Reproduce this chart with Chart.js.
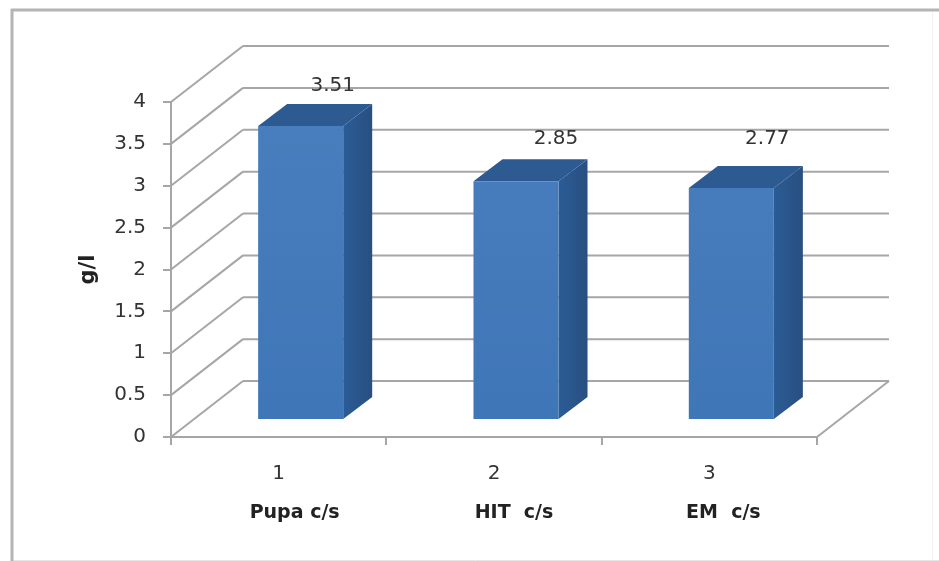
<!DOCTYPE html>
<html>
<head>
<meta charset="utf-8">
<title>g/l by sample</title>
<script src="https://cdn.jsdelivr.net/npm/chart.js@4/dist/chart.umd.min.js"></script>
<style>
    html, body { margin: 0; padding: 0; background: #fff; }
    canvas { display: block; }
</style>
</head>
<body>
<canvas id="chart" width="939" height="561"></canvas>
<script>
const categories = ['1', '2', '3'];
const sampleNames = ['Pupa c/s', 'HIT  c/s', 'EM  c/s'];
const concentration = [3.51, 2.85, 2.77];
const valueTicks = [0, 0.5, 1, 1.5, 2, 2.5, 3, 3.5, 4];

const GRID = '#a6a6a6';
const TEXT = '#333';
const BODY_FONT = '"DejaVu Sans", sans-serif';

// floor/wall projection and bar placement, in pixels
const WALL = { dx: 72, dy: -56 };
const BAR_SHIFT = { dx: 22, dy: -17 };
const BAR_DEPTH = { dx: 29, dy: -22 };
const NAME_NUDGE = [16, 20, 14];
const VALUE_NUDGE = [[32, -40], [40, -43], [36, -49]];

function quad(ctx, pts, fill) {
    ctx.beginPath();
    pts.forEach((p, i) => i ? ctx.lineTo(p[0], p[1]) : ctx.moveTo(p[0], p[1]));
    ctx.closePath();
    ctx.fillStyle = fill;
    ctx.fill();
}

function line(ctx, x1, y1, x2, y2) {
    ctx.beginPath();
    ctx.moveTo(x1, y1);
    ctx.lineTo(x2, y2);
    ctx.stroke();
}

const box3d = {
    id: 'box3d',
    beforeDraw(chart) {
        // outer frame: heavy left and top, bottom and right barely there
        const ctx = chart.ctx;
        ctx.save();
        ctx.strokeStyle = '#e6e6e6';
        ctx.lineWidth = 1;
        line(ctx, 12, 560.5, 939, 560.5);
        ctx.strokeStyle = '#f3f3f3';
        line(ctx, 932.5, 11, 932.5, 560);
        ctx.strokeStyle = '#b4b4b4';
        ctx.lineWidth = 3;
        line(ctx, 12, 9, 12, 561);
        line(ctx, 11, 10, 939, 10);
        ctx.restore();
    },
    beforeDatasetsDraw(chart) {
        // side wall, back wall and floor edge
        const { ctx, chartArea: area, scales: { y } } = chart;
        ctx.save();
        ctx.strokeStyle = GRID;
        ctx.lineWidth = 2;
        valueTicks.forEach(v => {
            const py = y.getPixelForValue(v);
            line(ctx, area.left, py, area.left + WALL.dx, py + WALL.dy);
            line(ctx, area.left + WALL.dx, py + WALL.dy, area.right + WALL.dx, py + WALL.dy);
        });
        const y0 = y.getPixelForValue(0);
        line(ctx, area.right, y0, area.right + WALL.dx, y0 + WALL.dy);
        ctx.restore();
    },
    beforeDatasetDraw(chart, args) {
        // the library paints the front face in this shifted frame
        const ctx = chart.ctx;
        ctx.save();
        ctx.translate(BAR_SHIFT.dx, BAR_SHIFT.dy);
        args.meta.data.forEach(bar => {
            const right = bar.x + bar.width / 2;
            const left = bar.x - bar.width / 2;
            const d = BAR_DEPTH;
            const side = ctx.createLinearGradient(right, 0, right + d.dx, 0);
            side.addColorStop(0, '#2b5c96');
            side.addColorStop(1, '#284f80');
            quad(ctx, [[right, bar.y], [right + d.dx, bar.y + d.dy], [right + d.dx, bar.base + d.dy], [right, bar.base]], side);
            quad(ctx, [[left, bar.y], [left + d.dx, bar.y + d.dy], [right + d.dx, bar.y + d.dy], [right, bar.y]], '#2d5a90');
        });
    },
    afterDatasetDraw(chart, args) {
        const ctx = chart.ctx;
        ctx.restore();
        ctx.save();
        ctx.fillStyle = TEXT;
        ctx.textAlign = 'center';
        ctx.textBaseline = 'middle';
        ctx.font = '20px ' + BODY_FONT;
        args.meta.data.forEach((bar, i) => {
            const n = VALUE_NUDGE[i];
            ctx.fillText(concentration[i].toFixed(2), bar.x + BAR_SHIFT.dx + n[0], bar.y + BAR_SHIFT.dy + n[1]);
        });
        // sample names sit under the category numbers
        ctx.fillStyle = '#222';
        ctx.font = 'bold 19px ' + BODY_FONT;
        sampleNames.forEach((name, i) => {
            ctx.fillText(name, chart.scales.x.getPixelForValue(i) + NAME_NUDGE[i], 513);
        });
        ctx.restore();
    }
};

new Chart(document.getElementById('chart'), {
    type: 'bar',
    plugins: [box3d],
    data: {
        labels: categories,
        datasets: [{
            data: concentration,
            categoryPercentage: 1,
            barPercentage: 0.395,
            borderWidth: 0,
            backgroundColor(c) {
                const area = c.chart.chartArea;
                if (!area) return '#4279ba';
                const g = c.chart.ctx.createLinearGradient(0, area.top, 0, area.bottom);
                g.addColorStop(0, '#4a7fbe');
                g.addColorStop(1, '#3f76b7');
                return g;
            }
        }]
    },
    options: {
        responsive: false,
        animation: false,
        layout: { padding: { top: 102, right: 122, bottom: 0, left: 0 } },
        plugins: { legend: { display: false }, title: { display: false }, tooltip: { enabled: false } },
        scales: {
            x: {
                afterFit(scale) { scale.height = 124; },
                border: { color: GRID, width: 2 },
                grid: { drawOnChartArea: false, color: GRID, lineWidth: 2, tickLength: 8 },
                ticks: { color: TEXT, padding: 17, maxRotation: 0, font: { family: BODY_FONT, size: 20 } }
            },
            y: {
                min: 0,
                max: 4,
                afterFit(scale) { scale.width = 171; },
                afterBuildTicks(scale) { scale.ticks = valueTicks.map(value => ({ value })); },
                border: { color: GRID, width: 2 },
                grid: { drawOnChartArea: false, color: GRID, lineWidth: 2, tickLength: 8 },
                ticks: {
                    color: TEXT,
                    padding: 17,
                    font: { family: BODY_FONT, size: 20 },
                    callback: v => String(v)
                },
                title: {
                    display: true,
                    text: 'g/l',
                    color: '#222',
                    padding: { top: 76, bottom: 0 },
                    font: { family: BODY_FONT, size: 21, weight: 'bold' }
                }
            }
        }
    }
});
</script>
</body>
</html>
